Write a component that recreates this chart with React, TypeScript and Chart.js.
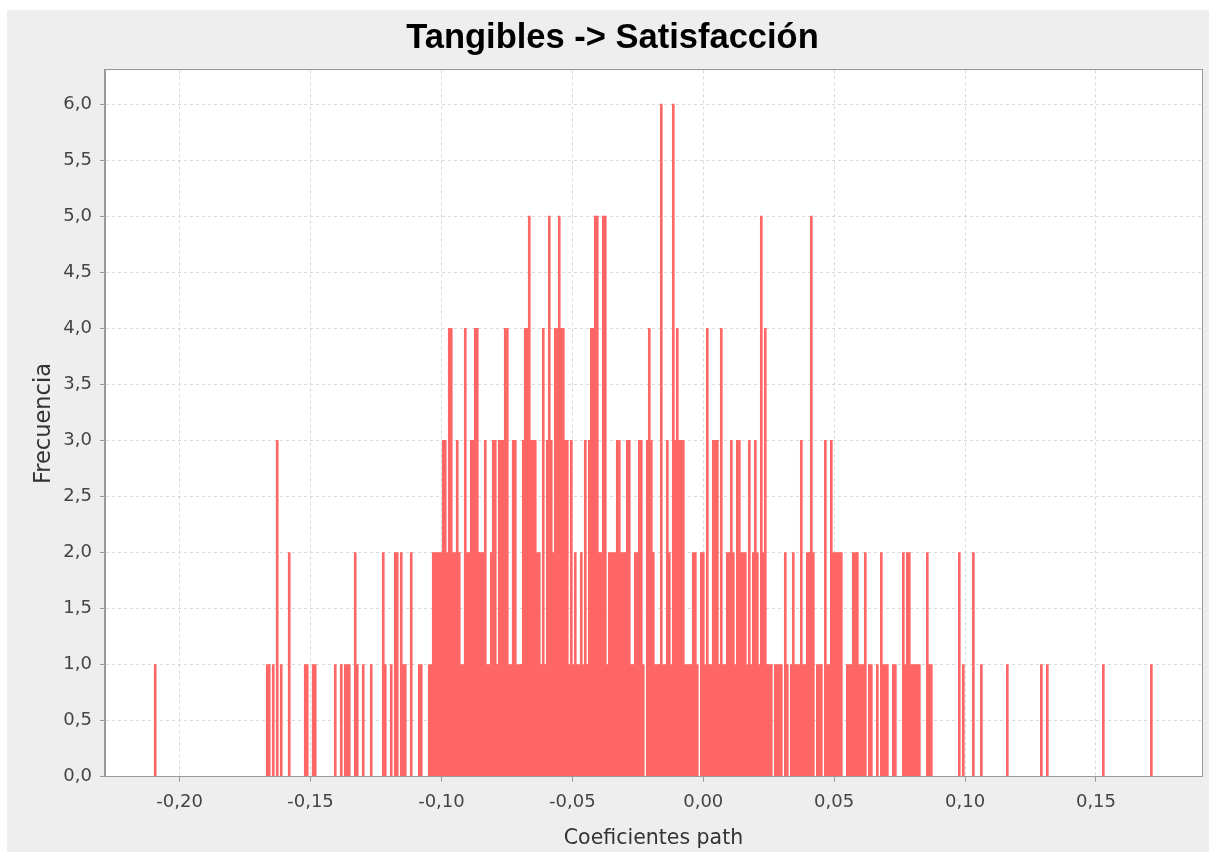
import React, { useEffect, useRef } from "react";
import { Chart, registerables } from "chart.js";

Chart.register(...registerables);

const chartTitle = "Tangibles -> Satisfacción";
const xTitle = "Coeficientes path";
const yTitle = "Frecuencia";

// Histogram bins: first bin edge and bin width (coefficient units)
const binMin = -0.2097;
const binWidth = 0.000764;

// Frequency per bin (500 bins)
const counts: number[] = [
  1, 0, 0, 0, 0, 0, 0, 0, 0, 0, 0, 0, 0, 0, 0, 0, 0, 0, 0, 0,
  0, 0, 0, 0, 0, 0, 0, 0, 0, 0, 0, 0, 0, 0, 0, 0, 0, 0, 0, 0,
  0, 0, 0, 0, 0, 0, 0, 0, 0, 0, 0, 0, 0, 0, 0, 0, 1, 1, 0, 1,
  0, 3, 0, 1, 0, 0, 0, 2, 0, 0, 0, 0, 0, 0, 0, 1, 1, 0, 0, 1,
  1, 0, 0, 0, 0, 0, 0, 0, 0, 0, 1, 0, 0, 1, 0, 1, 1, 1, 0, 0,
  2, 1, 0, 0, 1, 0, 0, 0, 1, 0, 0, 0, 0, 0, 2, 1, 0, 0, 1, 0,
  2, 2, 0, 2, 1, 1, 0, 0, 2, 0, 0, 0, 1, 1, 0, 0, 0, 1, 1, 2,
  2, 2, 2, 2, 3, 3, 2, 4, 4, 2, 2, 3, 2, 1, 1, 4, 2, 2, 3, 3,
  4, 4, 2, 2, 2, 3, 1, 1, 2, 3, 3, 1, 3, 3, 3, 4, 4, 1, 1, 3,
  3, 1, 1, 1, 3, 4, 4, 5, 3, 3, 3, 2, 2, 1, 4, 1, 3, 5, 3, 2,
  4, 4, 5, 4, 4, 3, 3, 1, 3, 1, 2, 1, 1, 2, 1, 3, 1, 3, 4, 4,
  5, 5, 2, 2, 5, 5, 1, 2, 2, 2, 2, 3, 3, 2, 2, 2, 3, 3, 1, 1,
  2, 2, 3, 3, 1, 0, 3, 4, 3, 2, 1, 1, 1, 6, 1, 1, 3, 2, 1, 6,
  3, 4, 3, 3, 3, 1, 1, 1, 1, 2, 2, 1, 0, 2, 2, 1, 4, 1, 1, 3,
  3, 3, 1, 4, 1, 1, 2, 2, 3, 2, 1, 3, 3, 2, 2, 2, 1, 3, 1, 2,
  3, 2, 1, 5, 2, 4, 1, 1, 1, 0, 1, 1, 1, 1, 0, 2, 1, 0, 1, 2,
  1, 1, 1, 3, 1, 1, 2, 2, 5, 2, 0, 1, 1, 1, 0, 3, 1, 1, 3, 2,
  2, 2, 2, 2, 0, 0, 1, 1, 1, 2, 2, 2, 1, 1, 1, 2, 0, 1, 1, 0,
  0, 1, 0, 2, 1, 1, 1, 0, 0, 1, 1, 0, 0, 0, 2, 1, 2, 2, 1, 1,
  1, 1, 1, 0, 0, 0, 2, 1, 1, 0, 0, 0, 0, 0, 0, 0, 0, 0, 0, 0,
  0, 0, 2, 0, 1, 0, 0, 0, 0, 2, 0, 0, 0, 1, 0, 0, 0, 0, 0, 0,
  0, 0, 0, 0, 0, 0, 1, 0, 0, 0, 0, 0, 0, 0, 0, 0, 0, 0, 0, 0,
  0, 0, 0, 1, 0, 0, 1, 0, 0, 0, 0, 0, 0, 0, 0, 0, 0, 0, 0, 0,
  0, 0, 0, 0, 0, 0, 0, 0, 0, 0, 0, 0, 0, 0, 1, 0, 0, 0, 0, 0,
  0, 0, 0, 0, 0, 0, 0, 0, 0, 0, 0, 0, 0, 0, 0, 0, 0, 0, 1, 0,
];

const xMin = -0.2285;
const xMax = 0.1905;
const xStep = 0.05;
const yMin = 0;
const yMax = 6.3;
const yStep = 0.5;

const fmt = (v: number, d: number) => {
  const n = Math.abs(v) < 1e-9 ? 0 : v;
  return n.toFixed(d).replace(".", ",");
};

const W = 1202;
const H = 842;

export default function App() {
  const ref = useRef<HTMLCanvasElement | null>(null);

  useEffect(() => {
    if (!ref.current) return;
    const points = counts.map((c, k) => ({ x: binMin + (k + 0.5) * binWidth, y: c }));

    const bgPlugin = {
      id: "bgPlugin",
      beforeDraw(chart: any) {
        const { ctx, chartArea: a, width, height } = chart;
        ctx.save();
        ctx.fillStyle = "#eeeeee";
        ctx.fillRect(0, 0, width, height);
        ctx.fillStyle = "#ffffff";
        ctx.fillRect(a.left, a.top, a.right - a.left, a.bottom - a.top);
        ctx.restore();
      },
      afterDraw(chart: any) {
        const { ctx, chartArea: a } = chart;
        ctx.save();
        ctx.strokeStyle = "#9a9a9a";
        ctx.lineWidth = 1;
        ctx.strokeRect(Math.round(a.left) - 0.5, Math.round(a.top) - 0.5, Math.round(a.right - a.left) + 1, Math.round(a.bottom - a.top) + 1);
        ctx.restore();
      },
    };

    const tickFont = { family: "DejaVu Sans", size: 18 };

    const chart = new Chart(ref.current, {
      type: "bar",
      data: {
        datasets: [
          {
            data: points as any,
            backgroundColor: "#ff6666",
            borderWidth: 0,
            barThickness: 2,
          },
        ],
      },
      options: {
        responsive: false,
        animation: false,
        layout: { padding: { left: 16, right: 7, top: 0, bottom: 0 } },
        plugins: {
          legend: { display: false },
          tooltip: { enabled: false },
          title: {
            display: true,
            text: chartTitle,
            color: "#000000",
            font: { family: "Liberation Sans", size: 34.5, weight: "bold", lineHeight: 1.2 },
            padding: { top: 8, bottom: 11 },
          },
        },
        scales: {
          x: {
            type: "linear",
            min: xMin,
            max: xMax,
            offset: false,
            afterFit: (s: any) => {
              s.height = 75.3;
            },
            ticks: {
              stepSize: xStep,
              includeBounds: false,
              autoSkip: false,
              maxRotation: 0,
              padding: 10,
              color: "#444444",
              font: tickFont,
              callback: (v: any) => fmt(Number(v), 2),
            },
            grid: {
              color: "#d9d9d9",
              lineWidth: 1,
              tickColor: "#9a9a9a",
              tickLength: 5,
              tickBorderDash: [],
              offset: false,
            } as any,
            border: { color: "#9a9a9a", width: 1, dash: [3, 3] },
            title: {
              display: true,
              text: xTitle,
              color: "#333333",
              font: { family: "DejaVu Sans", size: 20.5, lineHeight: 1.2 },
              padding: { top: 4, bottom: 1 },
            },
          },
          y: {
            type: "linear",
            min: yMin,
            max: yMax,
            afterFit: (s: any) => {
              s.width = 82;
            },
            ticks: {
              stepSize: yStep,
              includeBounds: false,
              padding: 8,
              color: "#444444",
              font: tickFont,
              callback: (v: any) => fmt(Number(v), 1),
            },
            grid: {
              color: "#d9d9d9",
              lineWidth: 1,
              tickColor: "#9a9a9a",
              tickLength: 5,
              tickBorderDash: [],
            } as any,
            border: { color: "#9a9a9a", width: 1, dash: [3, 3] },
            title: {
              display: true,
              text: yTitle,
              color: "#333333",
              font: { family: "DejaVu Sans", size: 22.5, lineHeight: 1.2 },
              padding: { top: 8, bottom: 0 },
            },
          },
        },
      } as any,
      plugins: [bgPlugin],
    });
    return () => chart.destroy();
  }, []);

  return (
    <div style={{ position: "absolute", left: 7, top: 10, width: W, height: H }}>
      <canvas ref={ref} width={W} height={H} style={{ display: "block" }} />
    </div>
  );
}
